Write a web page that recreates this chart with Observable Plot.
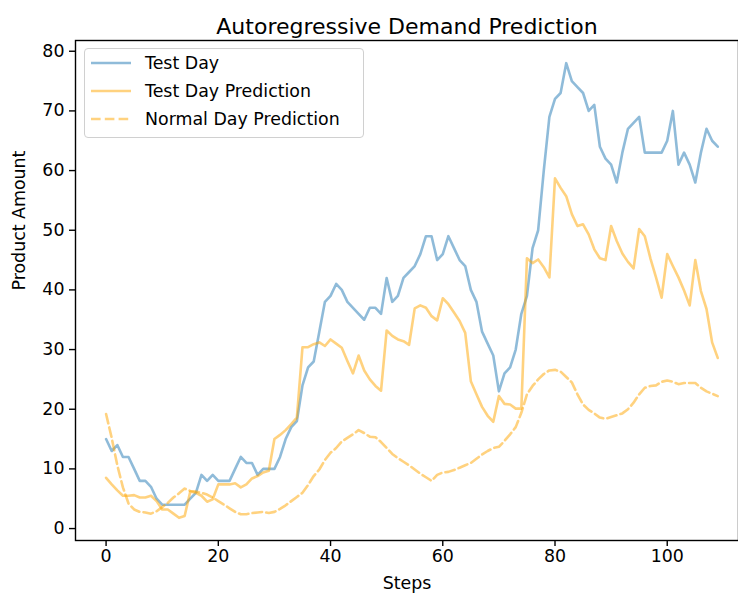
<!DOCTYPE html>
<html>
<head>
<meta charset="utf-8">
<script src="https://cdn.jsdelivr.net/npm/d3@7"></script>
<script src="https://cdn.jsdelivr.net/npm/@observablehq/plot@0.6"></script>
<style>
  html, body { margin: 0; padding: 0; background: #fff; }
  #wrap { position: relative; width: 738px; height: 599px; font-family: "DejaVu Sans", sans-serif; }
  #legend { position: absolute; left: 84px; top: 48px; width: 278px; height: 88px; border: 1px solid #d0d0d0; border-radius: 4px; background: rgba(255,255,255,0.8); }
  #legend .row { position: absolute; left: 0; height: 20px; display: flex; align-items: center; }
  #legend svg { display: block; }
  #legend span { font-size: 17.4px; color: #000; margin-left: 13px; white-space: nowrap; }
</style>
</head>
<body>
<div id="wrap"></div>
<script>
const title = "Autoregressive Demand Prediction";
const xLabel = "Steps";
const yLabel = "Product Amount";
const seriesNames = ["Test Day", "Test Day Prediction", "Normal Day Prediction"];
const xTicks = [0, 20, 40, 60, 80, 100];
const yTicks = [0, 10, 20, 30, 40, 50, 60, 70, 80];

const testDay = [15,13,14,12,12,10,8,8,7,5,4,4,4,4,4,5,6,9,8,9,8,8,8,10,12,11,11,9,10,10,10,12,15,17,18,24,27,28,33,38,39,41,40,38,37,36,35,37,37,36,42,38,39,42,43,44,46,49,49,45,46,49,47,45,44,40,38,33,31,29,23,26,27,30,36,39,47,50,60,69,72,73,78,75,74,73,70,71,64,62,61,58,63,67,68,69,63,63,63,63,65,70,61,63,61,58,63,67,65,64];

const testDayPrediction = [8.5,7.4,6.4,5.5,5.5,5.6,5.2,5.2,5.5,4.6,3.2,3.2,2.5,1.8,2.1,6.2,6.0,5.5,4.5,4.9,7.4,7.4,7.4,7.6,6.9,7.4,8.4,8.8,9.4,9.7,15.0,15.7,16.5,17.5,18.6,30.4,30.4,30.9,31.2,30.6,31.7,31.0,30.3,28.1,26.0,29.0,26.5,25.0,23.9,23.1,33.2,32.3,31.7,31.4,30.8,36.9,37.4,37.0,35.6,34.9,38.6,37.6,36.2,34.8,32.8,24.7,22.5,20.4,18.9,17.9,22.2,20.9,20.8,20.1,20.1,45.3,44.5,45.1,43.8,42.1,58.7,57.1,55.7,52.7,50.7,51.0,49.3,46.8,45.3,45.0,50.7,48.2,46.1,44.7,43.6,50.2,49.0,45.3,42.1,38.7,46.0,44.0,42.1,39.9,37.4,45.0,39.8,36.8,31.2,28.6];

const normalDayPrediction = [19.2,15.2,10.6,6.9,4.2,3.2,2.8,2.7,2.5,2.9,3.6,4.3,5.2,5.9,6.7,6.3,6.2,6.0,5.7,5.2,4.6,4.0,3.4,2.8,2.4,2.4,2.6,2.7,2.8,2.6,2.8,3.3,3.9,4.6,5.3,6.0,7.3,8.8,9.9,11.5,12.7,13.5,14.6,15.2,15.8,16.5,16.0,15.4,15.3,14.5,13.5,12.5,11.8,11.2,10.6,9.9,9.2,8.6,8.0,9.0,9.4,9.5,9.8,10.2,10.6,11.0,11.7,12.4,13.0,13.5,13.7,14.7,15.8,17.0,19.4,22.5,23.9,25.0,25.9,26.5,26.6,26.3,25.4,24.5,22.5,20.8,19.9,19.3,18.6,18.4,18.7,19.0,19.3,20.0,21.1,22.5,23.6,23.9,24.0,24.6,24.8,24.6,24.2,24.4,24.4,24.4,23.6,23.0,22.6,22.2];

const blue = "#1f77b4", orange = "orange";
const lw = 2.6, dash = "9.6,4.2", alpha = 0.5;

const toRows = arr => arr.map((v, i) => ({step: i, value: v}));

const chart = Plot.plot({
  width: 738,
  height: 599,
  marginLeft: 75,
  marginRight: 0,
  marginTop: 40,
  marginBottom: 59,
  style: {fontFamily: "DejaVu Sans, sans-serif", fontSize: "17.4px", background: "white", color: "black"},
  x: {domain: [-5.45, 112.7]},
  y: {domain: [-2.0, 81.8]},
  marks: [
    Plot.line(toRows(testDay), {x: "step", y: "value", stroke: blue, strokeOpacity: alpha, strokeWidth: lw}),
    Plot.line(toRows(testDayPrediction), {x: "step", y: "value", stroke: orange, strokeOpacity: alpha, strokeWidth: lw}),
    Plot.line(toRows(normalDayPrediction), {x: "step", y: "value", stroke: orange, strokeOpacity: alpha, strokeWidth: lw, strokeDasharray: dash}),
    Plot.frame({stroke: "black", strokeWidth: 1.4}),
    Plot.axisX({ticks: xTicks, tickSize: 6, tickPadding: 3, tickFormat: d => String(d), fontSize: 17.4, label: null, strokeWidth: 1.4}),
    Plot.axisY({ticks: yTicks, tickSize: 6, tickPadding: 5, tickFormat: d => String(d), fontSize: 17.4, label: null, strokeWidth: 1.4}),
    Plot.text([title], {frameAnchor: "top", dy: -22, fontSize: 22, fill: "black"}),
    Plot.text([xLabel], {frameAnchor: "bottom", dy: 48, fontSize: 17.4, fill: "black"}),
    Plot.text([yLabel], {frameAnchor: "left", dx: -56, rotate: -90, fontSize: 17.4, fill: "black"})
  ]
});

const wrap = document.getElementById("wrap");
wrap.appendChild(chart);

// legend overlay
const legend = document.createElement("div");
legend.id = "legend";
const styles = [
  {stroke: blue, dash: null},
  {stroke: orange, dash: null},
  {stroke: orange, dash: dash}
];
seriesNames.forEach((name, i) => {
  const row = document.createElement("div");
  row.className = "row";
  row.style.top = (4 + i * 28) + "px";
  row.style.left = "5px";
  const sw = d3.create("svg").attr("width", 42).attr("height", 20);
  sw.append("line").attr("x1", 1).attr("x2", 41).attr("y1", 10).attr("y2", 10)
    .attr("stroke", styles[i].stroke).attr("stroke-opacity", alpha).attr("stroke-width", lw)
    .attr("stroke-dasharray", styles[i].dash);
  row.appendChild(sw.node());
  const label = document.createElement("span");
  label.textContent = name;
  row.appendChild(label);
  legend.appendChild(row);
});
wrap.appendChild(legend);
</script>
</body>
</html>
